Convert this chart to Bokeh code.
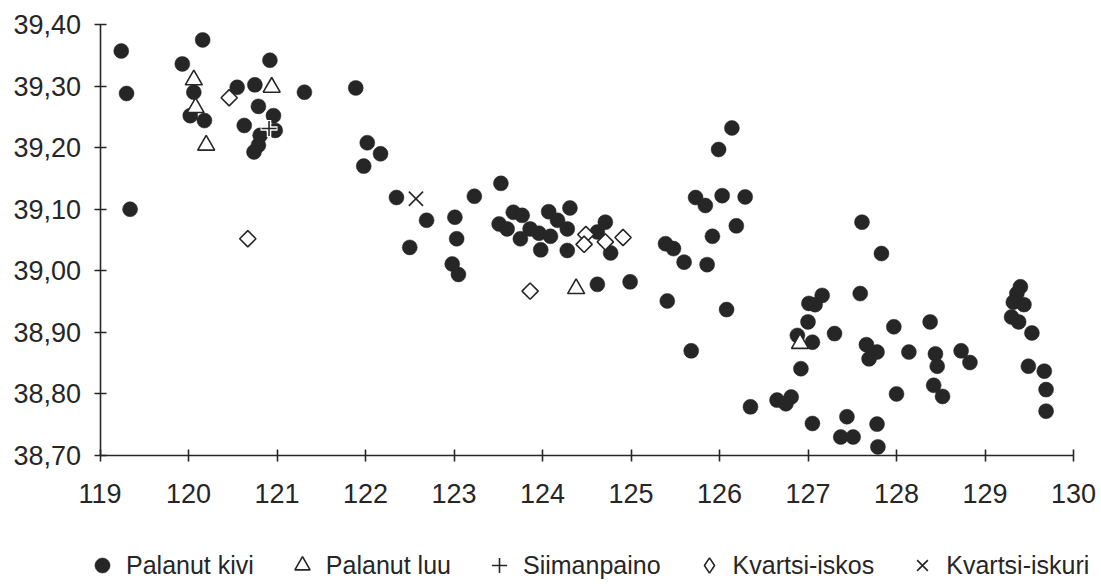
import math
from bokeh.plotting import figure
from bokeh.models import (FixedTicker, CustomJSTickFormatter, Legend, LegendItem,
                          Range1d)
from bokeh.embed import file_html
from bokeh.resources import INLINE

# --- data -------------------------------------------------------------
kivi_x = [119.24, 119.30, 119.34, 120.16, 119.93, 120.06, 120.02, 120.18,
          120.55, 120.75, 120.92, 121.31, 120.79, 120.96, 120.63, 120.98,
          120.81, 120.74, 120.79, 121.89, 122.02, 122.17, 121.98, 122.35,
          122.69, 122.50, 123.01, 123.03, 122.98, 123.05, 123.23, 123.53,
          123.51, 123.67, 123.77, 123.60, 123.75, 123.86, 123.96, 124.07,
          124.17, 124.31, 124.09, 123.98, 124.28, 124.28, 124.71, 124.62,
          124.77, 124.62, 124.99, 126.14, 125.99, 125.73, 125.84, 126.03,
          126.29, 126.19, 125.92, 125.39, 125.48, 125.60, 125.86, 125.41,
          126.08, 125.68, 126.35, 127.61, 127.83, 127.59, 127.16, 127.01,
          127.08, 127.00, 126.88, 127.05, 127.30, 127.66, 127.78, 127.69,
          127.97, 128.14, 126.92, 126.65, 126.75, 126.81, 127.05, 127.44,
          127.37, 127.51, 127.78, 127.79, 128.00, 128.38, 128.44, 128.46,
          128.73, 128.83, 128.42, 128.52, 129.40, 129.36, 129.32, 129.44,
          129.30, 129.38, 129.53, 129.49, 129.67, 129.69, 129.69]
kivi_y = [39.357, 39.288, 39.100, 39.375, 39.336, 39.290, 39.252, 39.244,
          39.298, 39.302, 39.342, 39.290, 39.267, 39.252, 39.236, 39.228,
          39.220, 39.193, 39.204, 39.297, 39.208, 39.190, 39.170, 39.119,
          39.082, 39.038, 39.087, 39.052, 39.011, 38.994, 39.121, 39.142,
          39.076, 39.095, 39.090, 39.068, 39.052, 39.068, 39.061, 39.096,
          39.082, 39.102, 39.056, 39.034, 39.068, 39.033, 39.079, 39.063,
          39.029, 38.978, 38.982, 39.232, 39.197, 39.119, 39.106, 39.122,
          39.120, 39.073, 39.056, 39.044, 39.036, 39.014, 39.010, 38.951,
          38.937, 38.870, 38.779, 39.079, 39.028, 38.963, 38.960, 38.947,
          38.945, 38.917, 38.895, 38.884, 38.898, 38.880, 38.868, 38.857,
          38.909, 38.868, 38.841, 38.790, 38.784, 38.795, 38.752, 38.763,
          38.730, 38.730, 38.751, 38.714, 38.800, 38.917, 38.865, 38.845,
          38.870, 38.851, 38.814, 38.796, 38.974, 38.963, 38.949, 38.945,
          38.925, 38.917, 38.899, 38.845, 38.837, 38.807, 38.772]

luu_x = [120.06, 120.08, 120.20, 120.94, 124.38, 126.91]
luu_y = [39.310, 39.265, 39.204, 39.298, 38.971, 38.882]

siimanpaino_x = [120.91]
siimanpaino_y = [39.231]

iskos_x = [120.46, 120.67, 123.86, 124.49, 124.47, 124.71, 124.91]
iskos_y = [39.281, 39.052, 38.967, 39.059, 39.043, 39.047, 39.054]

iskuri_x = [122.57]
iskuri_y = [39.117]

x_ticks = list(range(119, 131))
y_ticks = [38.70, 38.80, 38.90, 39.00, 39.10, 39.20, 39.30, 39.40]

labels = ["Palanut kivi", "Palanut luu", "Siimanpaino", "Kvartsi-iskos",
          "Kvartsi-iskuri"]

# --- layout -----------------------------------------------------------
W, H = 1101, 584
AX_LEFT, AX_RIGHT = 99.5, 1073.0      # pixel span of 119 .. 130
AX_TOP, AX_BOTTOM = 24.0, 455.0       # pixel span of 39.40 .. 38.70
X0, X1 = x_ticks[0], x_ticks[-1]
Y0, Y1 = y_ticks[0], y_ticks[-1]
sx = (AX_RIGHT - AX_LEFT) / (X1 - X0)
sy = (AX_BOTTOM - AX_TOP) / (Y1 - Y0)

# the frame fills the whole canvas; the axes sit at fixed data positions
x_range = Range1d(X0 - AX_LEFT / sx, X1 + (W - AX_RIGHT) / sx)
y_range = Range1d(Y0 - (H - AX_BOTTOM) / sy, Y1 + AX_TOP / sy)

INK = "#262626"
FONT = "Liberation Sans"

p = figure(width=W, height=H, output_backend="svg", toolbar_location=None,
           x_range=x_range, y_range=y_range,
           min_border_left=0, min_border_right=0, min_border_top=0,
           min_border_bottom=0, background_fill_color="white",
           border_fill_color="white")
p.outline_line_color = None
p.grid.visible = False

for ax in (p.xaxis[0], p.yaxis[0]):
    ax.axis_line_color = INK
    ax.axis_line_width = 1.6
    ax.major_tick_line_color = INK
    ax.major_tick_line_width = 1.6
    ax.major_tick_in = 6
    ax.major_tick_out = 6
    ax.minor_tick_line_color = None
    ax.major_label_text_font = FONT
    ax.major_label_text_font_size = "27px"
    ax.major_label_text_color = INK

p.xaxis.ticker = FixedTicker(ticks=x_ticks)
p.yaxis.ticker = FixedTicker(ticks=y_ticks)
p.xaxis.bounds = (X0, X1)
p.yaxis.bounds = (Y0, Y1)
p.xaxis.fixed_location = Y0
p.yaxis.fixed_location = X0
p.yaxis.formatter = CustomJSTickFormatter(
    code="return tick.toFixed(2).replace('.', ',');")
p.xaxis.major_label_standoff = 22
p.yaxis.major_label_standoff = 13

r_kivi = p.scatter(kivi_x, kivi_y, marker="circle", size=15,
                   fill_color=INK, line_color=INK, line_width=0.5)
r_luu = p.scatter(luu_x, luu_y, marker="triangle", size=17,
                  fill_color="white", line_color=INK, line_width=1.6)
# white halo keeps the plus readable on top of the dark dots
p.scatter(siimanpaino_x, siimanpaino_y, marker="cross", size=17,
          line_color="white", line_width=4.5)
r_plus = p.scatter(siimanpaino_x, siimanpaino_y, marker="cross", size=15,
                   line_color=INK, line_width=1.6)
r_iskos = p.scatter(iskos_x, iskos_y, marker="square", size=11.5,
                    angle=math.pi / 4, fill_color="white", line_color=INK,
                    line_width=1.6)
r_iskuri = p.scatter(iskuri_x, iskuri_y, marker="x", size=20,
                     line_color=INK, line_width=1.6)

# legend swatch for the quartz flakes: the legend ignores marker angles,
# so a hidden diamond renderer stands in for the rotated squares
r_iskos_key = p.scatter(iskos_x, iskos_y, marker="diamond", fill_color="white",
                        line_color=INK, line_width=1.6, visible=False)

legend = Legend(
    items=[LegendItem(label=lab, renderers=[r])
           for lab, r in zip(labels, [r_kivi, r_luu, r_plus, r_iskos_key,
                                      r_iskuri])],
    orientation="horizontal", location=(83, 0),
    padding=0, margin=0, spacing=29, label_standoff=5,
    glyph_width=38, glyph_height=38,
    border_line_color=None, background_fill_alpha=0,
    label_text_font=FONT, label_text_font_size="25px", label_text_color=INK)
p.add_layout(legend, "center")

open("out.html", "w").write(file_html(p, INLINE))
